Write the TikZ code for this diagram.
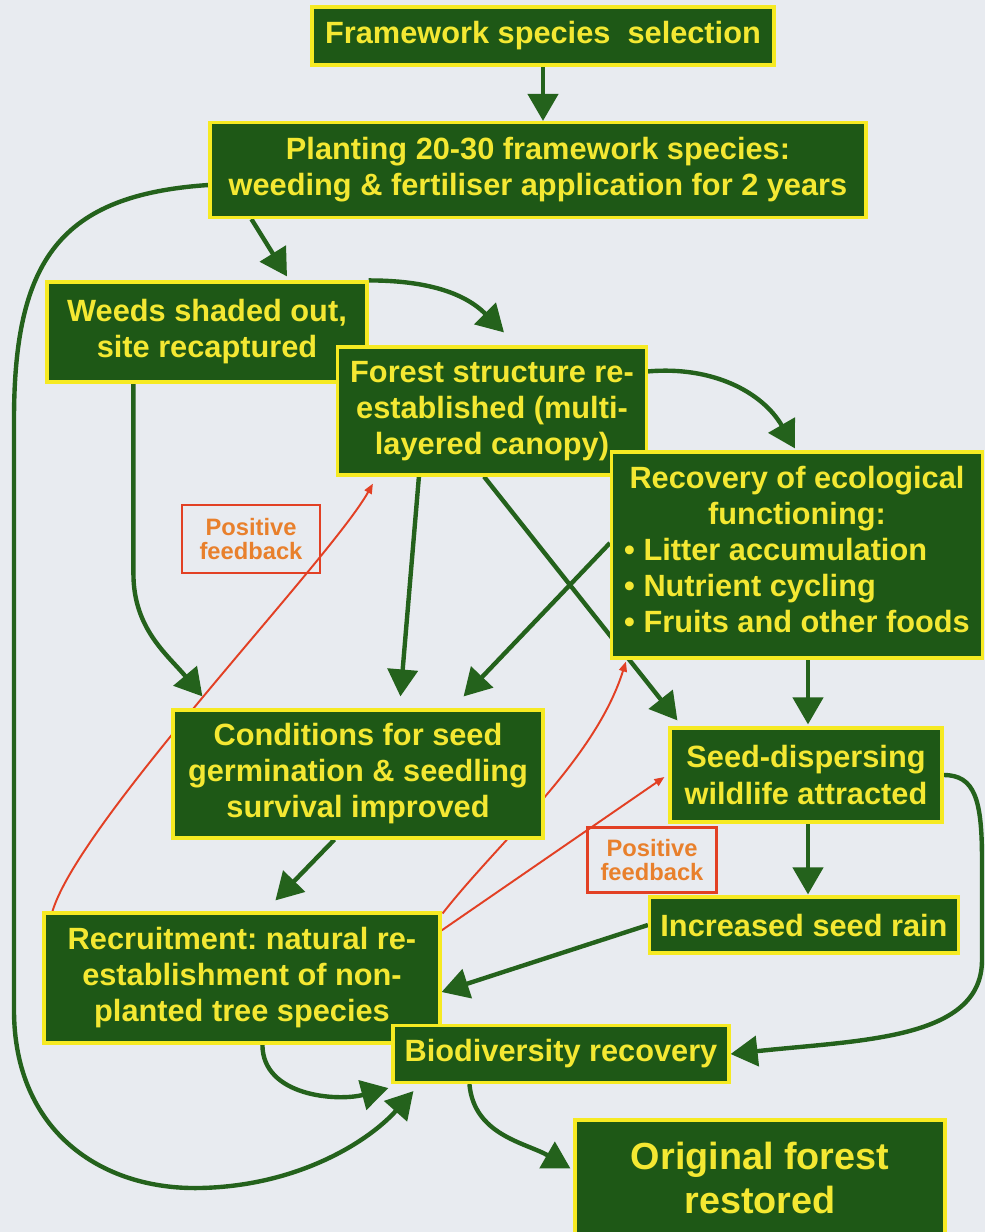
\documentclass[tikz,border=0pt]{standalone}
\usepackage{fontspec}
\setmainfont{Liberation Sans}
\usetikzlibrary{arrows.meta,calc}
\definecolor{bgcol}{RGB}{232,235,240}
\definecolor{boxgreen}{RGB}{30,88,22}
\definecolor{boxyellow}{RGB}{246,234,34}
\definecolor{txtyellow}{RGB}{244,232,50}
\definecolor{arrowgreen}{RGB}{36,98,28}
\definecolor{fbred}{RGB}{226,64,36}
\definecolor{fborange}{RGB}{232,128,44}
\pgfdeclarelayer{back}
\pgfdeclarelayer{edges}
\pgfsetlayers{back,edges,main}
\frenchspacing

\begin{document}
\begin{tikzpicture}[x=0.02cm,y=-0.02cm,
    box/.style 2 args={draw=boxyellow,line width=1.8pt,fill=boxgreen,text=txtyellow,
      font=\bfseries\fontsize{17.5}{20.5}\selectfont,align=center,inner sep=0pt,
      minimum width=#1*0.02cm,minimum height=#2*0.02cm},
    note/.style 2 args={draw=fbred,line width=1.5pt,text=fborange,
      font=\bfseries\fontsize{13.5}{13.5}\selectfont,align=center,inner sep=0pt,
      minimum width=#1*0.02cm,minimum height=#2*0.02cm},
    flow/.style={draw=arrowgreen,line width=2.5pt,-{Triangle[length=0.54cm,width=0.6cm]}},
    feedback/.style={draw=fbred,line width=1.1pt,-{Triangle[length=0.2cm,width=0.16cm]}}]
  \useasboundingbox (0,0) rectangle (985,1232);
  \begin{pgfonlayer}{back}
    \fill[bgcol] (0,0) rectangle (985,1232);
  \end{pgfonlayer}

  \node[box={462}{58}] (frame) at (543,36) {Framework species\ \ selection};
  \node[box={656}{95}] (plant) at (538,170) {Planting 20-30 framework species:\\weeding \& fertiliser application for 2 years};
  \node[box={320}{100}] (weeds) at (207,332) {Weeds shaded out,\\site recaptured};
  \node[box={309}{128}] (forest) at (492,411) {Forest structure re-\\established (multi-\\layered canopy)};
  \node[box={371}{206}] (recov) at (797,555) {Recovery of ecological\\functioning:\\
    \begin{tabular}[t]{@{}l@{}}\textbullet\ Litter accumulation\\\textbullet\ Nutrient cycling\\\textbullet\ Fruits and other foods\end{tabular}};
  \node[box={370}{128}] (cond) at (358,774) {Conditions for seed\\germination \& seedling\\survival improved};
  \node[box={272}{94}] (wild) at (806,775) {Seed-dispersing\\wildlife attracted};
  \node[box={309}{56}] (rain) at (804,925) {Increased seed rain};
  \node[box={396}{130}] (recruit) at (242,978) {Recruitment: natural re-\\establishment of non-\\planted tree species};
  \node[box={336}{57}] (biodiv) at (561,1054) {Biodiversity recovery};
  \node[box={370}{116},font=\bfseries\fontsize{21.5}{25}\selectfont] (orig) at (760,1178) {Original forest\\restored};
  \node[note={138}{68}] (fb1) at (251,539) {Positive\\feedback};
  \node[note={129}{65}] (fb2) at (652,860) {Positive\\feedback};

  \begin{pgfonlayer}{edges}
  \begin{scope}[flow]
    \draw (frame.south) to (frame.south |- plant.north);
    \draw ($(plant.south west)+(43,0)$) to ($(weeds.north)+(80,-4)$);
    \draw (weeds.north east) to[out=0,in=135] ($(forest.north)+(12,-13)$);
    \draw ($(forest.north east)+(0,26)$) to[out=5,in=120] ($(recov.north)+(-2,-2)$);
    \draw ($(plant.west)+(0,15)$) .. controls (60,195) and (14,260) .. (14,420) -- (14,1010)
      .. controls (14,1130) and (100,1190) .. (200,1188)
      .. controls (300,1186) and (370,1140) .. ($(biodiv.south west)+(22,7)$);
    \draw ($(weeds.south west)+(88,0)$) -- ++(0,190) to[out=-90,in=130] ($(cond.north west)+(31,-12)$);
    \draw ($(forest.south west)+(83,0)$) to ($(cond.north west)+(229,-12)$);
    \draw ($(forest.south)+(-8,0)$) to ($(wild.north west)+(9,-6)$);
    \draw ($(recov.west)+(0,-12)$) to ($(cond.north east)+(-81,-12)$);
    \draw ($(recov.south)+(11,0)$) to ($(wild.north)+(2,-2)$);
    \draw ($(wild.south)+(2,0)$) to ($(rain.north)+(4,-1)$);
    \draw (wild.east) .. controls (975,775) and (982,800) .. (982,860) -- (982,960)
      .. controls (982,1040) and (860,1040) .. (biodiv.east);
    \draw (rain.west) to ($(recruit.east)+(0,14)$);
    \draw ($(cond.south west)+(163,0)$) to ($(recruit.north west)+(233,-11)$);
    \draw ($(recruit.south west)+(220,0)$) to[out=-90,in=195] ($(biodiv.south west)+(-3,4)$);
    \draw ($(biodiv.south west)+(78,0)$) to[out=-85,in=150] ($(orig.north west)+(-3,50)$);
  \end{scope}
  \begin{scope}[feedback]
    \draw ($(recruit.north west)+(10,0)$) .. controls (80,820) and (330,560) .. ($(forest.south west)+(37,7)$);
    \draw ($(recruit.north east)+(1,2)$) .. controls (500,840) and (595,760) .. ($(recov.south west)+(16,2)$);
    \draw ($(recruit.north east)+(0,19)$) to ($(wild.west)+(-4,2)$);
  \end{scope}
  \end{pgfonlayer}
\end{tikzpicture}
\end{document}
